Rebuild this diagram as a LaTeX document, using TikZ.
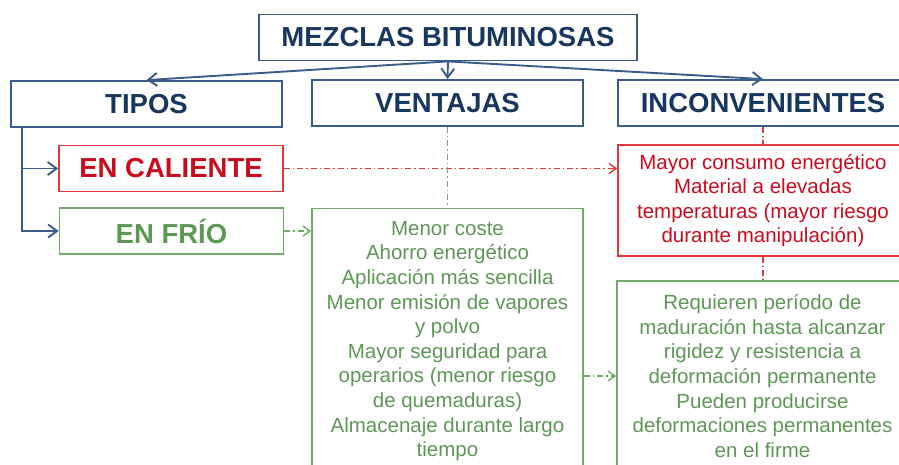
\documentclass[tikz,border=0pt]{standalone}
\usepackage{fontspec}
\setmainfont{Liberation Sans}
\usetikzlibrary{arrows.meta,positioning,calc}
\definecolor{navytxt}{RGB}{23,55,94}
\definecolor{navyln}{RGB}{56,93,138}
\definecolor{redtxt}{RGB}{200,12,30}
\definecolor{redln}{RGB}{222,56,60}
\definecolor{greentxt}{RGB}{92,152,84}
\definecolor{greenln}{RGB}{112,172,104}

\begin{document}
\begin{tikzpicture}[x=1pt, y=-1pt,
    head/.style={draw=navyln, line width=1.8pt, text=navytxt, minimum height=46pt, inner sep=0pt, font=\fontsize{27.5}{30}\selectfont\bfseries},
    kind/.style={draw=#1ln, line width=1.6pt, text=#1txt, minimum width=224pt, minimum height=46pt, inner sep=0pt, font=\fontsize{27.5}{30}\selectfont\bfseries},
    info/.style={draw=#1ln, line width=1.6pt, text=#1txt, align=center, inner sep=0pt, font=\fontsize{20.5}{24.6}\selectfont},
    arr/.style={-{Straight Barb[length=9pt,width=13pt]}, line width=1.9pt, navyln},
    darr/.style={-{Straight Barb[length=7pt,width=10pt]}, line width=1.4pt, #1ln, dash pattern=on 6pt off 3pt on 1.5pt off 3pt},
    dline/.style={line width=1.4pt, #1ln, dash pattern=on 6pt off 3pt on 1.5pt off 3pt}
]
\useasboundingbox (0,0) rectangle (899,464);

\node[head, minimum width=378pt] (M) at (448,37.5) {MEZCLAS BITUMINOSAS};
\node[head, minimum width=271pt] (T) at (146.5,104) {TIPOS};
\node[head, minimum width=271pt] (V) at (447.5,103) {VENTAJAS};
\node[head, minimum width=290pt] (I) at (763,103) {INCONVENIENTES};

\node[kind=red] (C) at (171,168.5) {EN CALIENTE};
\node[kind=green] (F) at (171.5,231) {EN FRÍO};

\node[info=green, minimum width=271pt, minimum height=265pt] (VB) at (447.5,341)
  {Menor coste\\Ahorro energético\\Aplicación más sencilla\\Menor emisión de vapores\\y polvo\\Mayor seguridad para\\operarios (menor riesgo\\de quemaduras)\\Almacenaje durante largo\\tiempo};
\node[info=red, minimum width=290pt, minimum height=111pt] (RB) at (763,200.5)
  {Mayor consumo energético\\Material a elevadas\\temperaturas (mayor riesgo\\durante manipulación)};
\node[info=green, minimum width=291pt, minimum height=190pt] (GB) at (762.5,376)
  {Requieren período de\\maduración hasta alcanzar\\rigidez y resistencia a\\deformación permanente\\Pueden producirse\\deformaciones permanentes\\en el firme};

\draw[arr] (M.south) -- (T.north);
\draw[arr] (M.south) -- (V.north);
\draw[arr] (M.south) -- (I.north);

\coordinate (t0) at ($(T.south west)+(12,0)$);
\draw[arr] (t0) |- (C.west);
\draw[arr] (t0) |- (F.west);

\draw[darr=red] (C.east) -- (C.east -| RB.west);
\draw[darr=green] (F.east) -- (F.east -| VB.west);
\draw[darr=green] (VB.east |- GB.west) -- (GB.west);
\draw[dline=green] (V.south) -- (V.south |- VB.north);
\draw[dline=red] (I.south) -- (RB.north);
\draw[dline=red] (RB.south) -- (RB.south |- GB.north);
\end{tikzpicture}
\end{document}
